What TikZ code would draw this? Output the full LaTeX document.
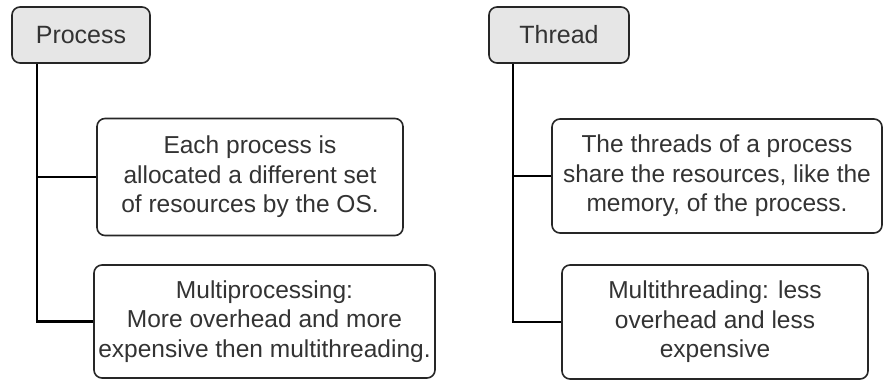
\documentclass[tikz,border=0pt]{standalone}
\usepackage{fontspec}
\setmainfont{Liberation Sans}
\definecolor{txt}{HTML}{333333}
\definecolor{hdr}{HTML}{E6E6E6}
\begin{document}
\begin{tikzpicture}[x=1pt,y=-1pt,
  box/.style={draw=black!85, line width=1.6pt, rounded corners=8pt, fill=white,
    text=txt, align=center, inner sep=0pt,
    font=\fontsize{24.5}{29.5}\selectfont},
  hdrbox/.style={box, fill=hdr, font=\fontsize{25}{28}\selectfont},
  conn/.style={draw=black, line width=2.4pt}]
\useasboundingbox (0,0) rectangle (883,381);
\node[hdrbox, minimum width=138pt, minimum height=56pt] (proc) at (81,35) {Process};
\node[hdrbox, minimum width=140pt, minimum height=56pt] (thr) at (559,35) {Thread};
\node[box, minimum width=306pt, minimum height=117pt] (b1) at (250,177)
  {Each process is\\allocated a different set\\of resources by the OS.};
\node[box, minimum width=341pt, minimum height=113pt] (b2) at (264.5,321.5)
  {Multiprocessing:\\More overhead and more\\expensive then multithreading.};
\node[box, minimum width=330pt, minimum height=114pt] (b3) at (717,176)
  {The threads of a process\\share the resources, like the\\memory, of the process.};
\node[box, minimum width=306pt, minimum height=114pt] (b4) at (715,322)
  {Multithreading: less\\overhead and less\\expensive};
\draw[conn] ([xshift=26pt]proc.south west) |- (b1.west);
\draw[conn] ([xshift=26pt]proc.south west) |- (b2.west);
\draw[conn] ([xshift=25pt]thr.south west) |- (b3.west);
\draw[conn] ([xshift=25pt]thr.south west) |- (b4.west);
\end{tikzpicture}
\end{document}
